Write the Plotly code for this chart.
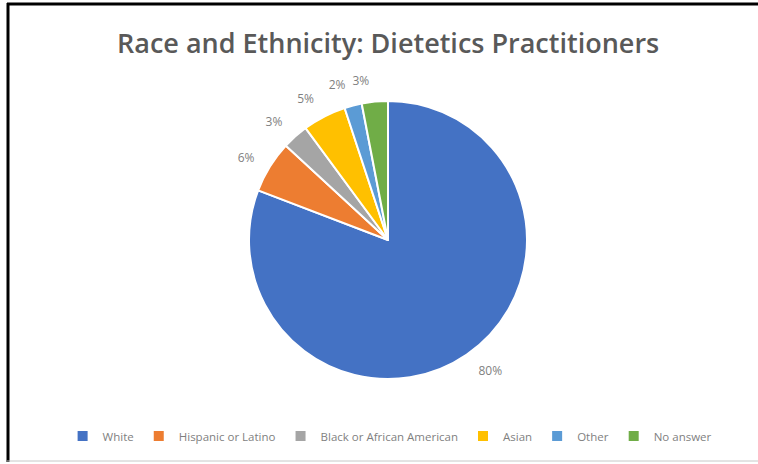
import plotly.graph_objects as go

# Survey shares (percent) by race / ethnicity
categories = ["White", "Hispanic or Latino", "Black or African American",
              "Asian", "Other", "No answer"]
shares = [80, 6, 3, 5, 2, 3]
colors = ["#4472C4", "#ED7D31", "#A5A5A5", "#FFC000", "#5B9BD5", "#70AD47"]

W, H = 758, 464
cx, cy, r = 388, 240, 139  # pie centre and radius in pixels
label_gap = 13             # extra distance of the outside labels


def pie_domain(radius):
    return dict(x=[(cx - radius) / W, (cx + radius) / W],
                y=[1 - (cy + radius) / H, 1 - (cy - radius) / H])


label_font = dict(family="Open Sans", size=12, color="#7f7f7f")
common = dict(labels=categories, values=shares, sort=False,
              direction="clockwise", rotation=0)

fig = go.Figure()
# Visible pie with the coloured slices
fig.add_trace(go.Pie(
    **common,
    domain=pie_domain(r),
    textinfo="none",
    marker=dict(colors=colors, line=dict(color="white", width=2)),
    hoverinfo="label+value",
))

# Percentage labels come from slightly larger transparent pies; the thin
# "Other" slice gets its own layer so neighbouring labels sit side by side
# without leader lines.
split_labels = {"Other"}
layers = [
    ["none" if c in split_labels else "outside" for c in categories],
    ["outside" if c in split_labels else "none" for c in categories],
]
for positions in layers:
    fig.add_trace(go.Pie(
        **common,
        domain=pie_domain(r + label_gap),
        texttemplate="%{value}%",
        textfont=label_font,
        textposition=positions,
        marker=dict(colors=["rgba(0,0,0,0)"] * len(categories),
                    line=dict(width=0)),
        showlegend=False,
        hoverinfo="skip",
    ))

# Frame lines around the chart area
frame = [
    dict(x0=8, y0=3, x1=8, y1=462, color="black", width=3),
    dict(x0=7, y0=4, x1=758, y1=4, color="black", width=3),
    dict(x0=7, y0=461, x1=758, y1=461, color="#c8c8c8", width=1),
]
shapes = [dict(type="line", xref="paper", yref="paper",
               x0=s["x0"] / W, x1=s["x1"] / W,
               y0=1 - s["y0"] / H, y1=1 - s["y1"] / H,
               line=dict(color=s["color"], width=s["width"]))
          for s in frame]

fig.update_layout(
    width=W, height=H,
    margin=dict(l=0, r=0, t=0, b=0),
    paper_bgcolor="white",
    plot_bgcolor="white",
    title=dict(text="Race and Ethnicity: Dietetics Practitioners",
               x=0.512, xanchor="center", y=1 - 44 / H, yanchor="middle",
               font=dict(family="Open Sans", size=27, color="#595959",
                         weight=600)),
    showlegend=True,
    legend=dict(orientation="h", x=0.514, xanchor="center",
                y=1 - 436 / H, yanchor="middle",
                font=dict(family="Open Sans", size=11.5, color="#7f7f7f"),
                itemwidth=30, traceorder="normal"),
    shapes=shapes,
)

fig.write_html("out.html")
